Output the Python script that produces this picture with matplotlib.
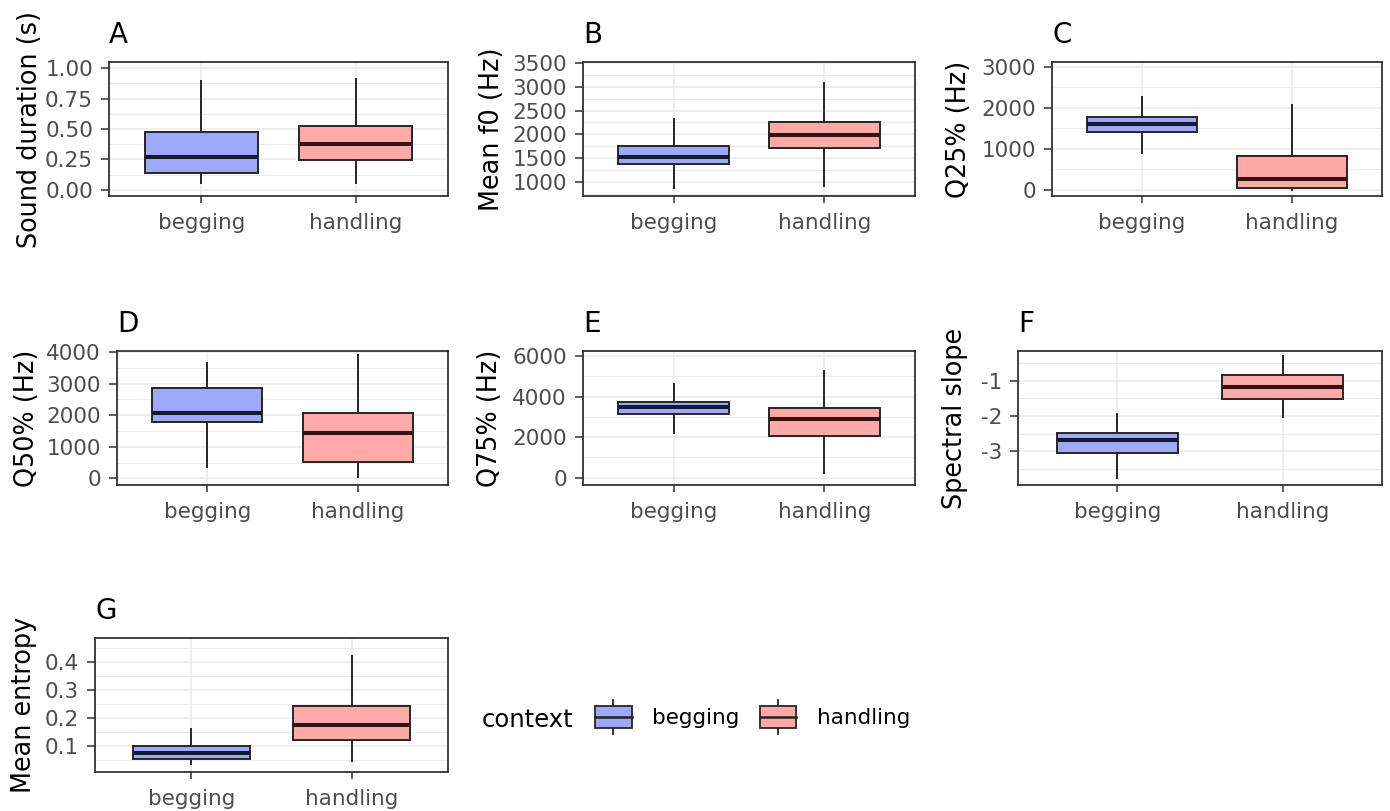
import matplotlib
matplotlib.use("Agg")
import matplotlib.pyplot as plt
from matplotlib.patches import Patch, Rectangle
from matplotlib.lines import Line2D
from matplotlib.legend_handler import HandlerBase

# ---------------- data ----------------
categories = ["begging", "handling"]
panel_letters = ["A", "B", "C", "D", "E", "F", "G"]
y_titles = ["Sound duration (s)", "Mean f0 (Hz)", "Q25% (Hz)", "Q50% (Hz)",
            "Q75% (Hz)", "Spectral slope", "Mean entropy"]

# box statistics, one entry per panel (A..G)
beg_q1 = [0.14, 1373, 1404, 1778, 3133, -3.05, 0.0545]
beg_med = [0.27, 1527, 1598, 2072, 3492, -2.69, 0.076]
beg_q3 = [0.475, 1760, 1769, 2861, 3738, -2.49, 0.100]
beg_lo = [0.06, 860, 908, 366, 2213, -3.74, 0.034]
beg_hi = [0.89, 2323, 2270, 3650, 4643, -1.95, 0.159]

han_q1 = [0.245, 1717, 41, 505, 2051, -1.51, 0.120]
han_med = [0.375, 1990, 260, 1421, 2887, -1.19, 0.176]
han_q3 = [0.525, 2260, 835, 2084, 3443, -0.84, 0.244]
han_lo = [0.06, 910, 0, 51, 246, -2.03, 0.045]
han_hi = [0.91, 3075, 2068, 3893, 5248, -0.31, 0.420]

# y tick values and labels per panel
yticks_A = [0.0, 0.25, 0.5, 0.75, 1.0]
ylabels_A = ["0.00", "0.25", "0.50", "0.75", "1.00"]
yticks_B = [1000, 1500, 2000, 2500, 3000, 3500]
ylabels_B = ["1000", "1500", "2000", "2500", "3000", "3500"]
yticks_C = [0, 1000, 2000, 3000]
ylabels_C = ["0", "1000", "2000", "3000"]
yticks_D = [0, 1000, 2000, 3000, 4000]
ylabels_D = ["0", "1000", "2000", "3000", "4000"]
yticks_E = [0, 2000, 4000, 6000]
ylabels_E = ["0", "2000", "4000", "6000"]
yticks_F = [-3, -2, -1]
ylabels_F = ["-3", "-2", "-1"]
yticks_G = [0.1, 0.2, 0.3, 0.4]
ylabels_G = ["0.1", "0.2", "0.3", "0.4"]

# ---------------- layout / style ----------------
W, H = 1390, 811
fig = plt.figure(figsize=(W / 100, H / 100), dpi=100)

# panel rectangles in pixels: left, top, right, bottom
rects = [(109, 62, 448, 196), (583, 62, 915, 196), (1052, 62, 1382, 196),
         (117, 351, 448, 485), (583, 351, 915, 485), (1018, 351, 1382, 485),
         (95, 638, 448, 772)]
ylims = [(-0.05, 1.05), (698, 3527), (-146, 3120), (-210, 4030),
         (-359, 6246), (-3.95, -0.163), (0.0064, 0.486)]
label_right = [43, 505, 972, 40, 503, 968, 37]

yticks_all = [yticks_A, yticks_B, yticks_C, yticks_D, yticks_E, yticks_F, yticks_G]
ylabels_all = [ylabels_A, ylabels_B, ylabels_C, ylabels_D, ylabels_E, ylabels_F, ylabels_G]

fill_beg = "#9EAAF9"
fill_han = "#FFA9A9"
med_beg = "#141933"
med_han = "#331414"
edge = "#262626"
grid_col = "#EBEBEB"
tick_col = "#4D4D4D"

for i in range(7):
    l, t, r, b = rects[i]
    ax = fig.add_axes([l / W, 1 - b / H, (r - l) / W, (b - t) / H])
    stats = [
        dict(q1=beg_q1[i], med=beg_med[i], q3=beg_q3[i], whislo=beg_lo[i], whishi=beg_hi[i], label=categories[0]),
        dict(q1=han_q1[i], med=han_med[i], q3=han_q3[i], whislo=han_lo[i], whishi=han_hi[i], label=categories[1]),
    ]
    bp = ax.bxp(stats, positions=[1, 2], widths=0.73, patch_artist=True,
                showfliers=False, showcaps=False,
                boxprops=dict(edgecolor=edge, linewidth=1.4),
                whiskerprops=dict(color=edge, linewidth=1.4),
                medianprops=dict(linewidth=2.9, solid_capstyle="butt"))
    for patch, fc in zip(bp["boxes"], [fill_beg, fill_han]):
        patch.set_facecolor(fc)
    for mline, mc in zip(bp["medians"], [med_beg, med_han]):
        mline.set_color(mc)

    ax.set_xticks([1, 2], categories)
    ax.set_yticks(yticks_all[i], ylabels_all[i])
    yt = yticks_all[i]
    step = yt[1] - yt[0]
    minors = [yt[0] - step / 2] + [v + step / 2 for v in yt]
    ax.set_yticks(minors, minor=True)
    ax.set_xlim(0.4, 2.6)
    ax.set_ylim(*ylims[i])
    ax.tick_params(axis="y", which="minor", length=0)
    ax.tick_params(axis="x", which="major", length=5, width=1.1, color="#333333",
                   pad=7, labelsize=15.5, labelcolor=tick_col)
    ax.tick_params(axis="y", which="major", length=5.5, width=1.1, color="#333333",
                   pad=6, labelsize=15.5, labelcolor=tick_col)
    ax.set_axisbelow(True)
    ax.grid(which="major", color=grid_col, linewidth=1.1)
    ax.grid(which="minor", axis="y", color=grid_col, linewidth=0.7)
    for sp in ax.spines.values():
        sp.set_color("#333333")
        sp.set_linewidth(1.3)
    ax.set_ylabel(y_titles[i], fontsize=18.4, color="black")
    ax.yaxis.set_label_coords((label_right[i] - l) / (r - l), 0.5)
    ax.set_title(panel_letters[i], loc="left", fontsize=20, pad=14, color="black")


class BoxHandler(HandlerBase):
    def create_artists(self, legend, orig_handle, xdescent, ydescent,
                       width, height, fontsize, trans):
        x0, y0 = -xdescent, -ydescent
        cx = x0 + width / 2
        rect = Rectangle((x0, y0 + 0.17 * height), width, 0.66 * height,
                         facecolor=orig_handle.get_facecolor(), edgecolor=edge,
                         linewidth=1.3, transform=trans)
        med = Line2D([x0, x0 + width], [y0 + 0.5 * height] * 2, color="#222222",
                     linewidth=1.8, transform=trans)
        w1 = Line2D([cx, cx], [y0, y0 + 0.17 * height], color=edge, linewidth=1.3, transform=trans)
        w2 = Line2D([cx, cx], [y0 + 0.83 * height, y0 + height], color=edge, linewidth=1.3, transform=trans)
        return [w1, w2, rect, med]


fig.text(482 / W, 1 - 720 / H, "context", ha="left", va="center", fontsize=17.5)
handles = [Patch(facecolor=fill_beg, label=categories[0]),
           Patch(facecolor=fill_han, label=categories[1])]
fig.legend(handles=handles, handler_map={Patch: BoxHandler()}, ncol=2,
           frameon=False, loc="center left", bbox_to_anchor=(595 / W, 1 - 717 / H),
           handlelength=1.7, handleheight=2.0, handletextpad=0.95,
           columnspacing=0.95, fontsize=15.5, borderaxespad=0, borderpad=0)

fig.savefig("out.png", dpi=100)
